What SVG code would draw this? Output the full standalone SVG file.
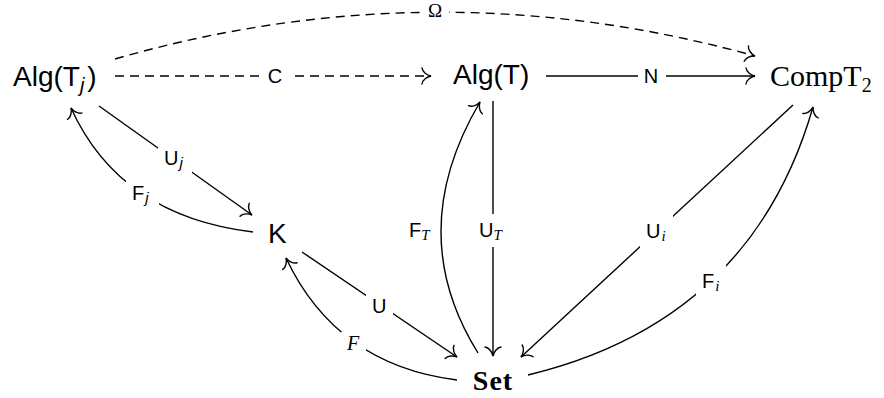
<svg xmlns="http://www.w3.org/2000/svg" width="884" height="398" viewBox="0 0 884 398">
<style>
.sans{font-family:"Liberation Sans",Arial,sans-serif;fill:#000}
.serif{font-family:"Liberation Serif","Times New Roman",serif;fill:#000}
.node{font-size:28px}
.lbl{font-size:20px}
.e{fill:none;stroke:#000;stroke-width:1.4;marker-end:url(#to)}
.d{stroke-dasharray:9 6}
.bg{fill:#fff}
</style>
<defs>
<marker id="to" markerUnits="userSpaceOnUse" markerWidth="24" markerHeight="24" viewBox="-12 -12 24 24" refX="0" refY="0" orient="auto" overflow="visible">
<path d="M-9,-8 C-8.5,-4 -4,-0.8 0,0 C-4,0.8 -8.5,4 -9,8" fill="none" stroke="#000" stroke-width="1.4" stroke-linecap="round"/>
</marker>
</defs>
<g id="connectors">
<path class="e d" d="M115,76 L431,76"/>
<path class="e d" d="M115,59 Q435,-33 755,56"/>
<path class="e" d="M546,76 L755,76"/>
<path class="e" d="M99,106 L252,215"/>
<path class="e" d="M253,232 Q120,216 71,108"/>
<path class="e" d="M302,252 L457,357"/>
<path class="e" d="M457,380 Q336.5,365 286,258"/>
<path class="e" d="M478,353 Q403,232.5 480,102"/>
<path class="e" d="M493,101 L493,356"/>
<path class="e" d="M793,105 L521,357"/>
<path class="e" d="M528,375 Q751.5,321 813,107"/>
<rect class="bg" x="259" y="64" width="31" height="24"/>
<rect class="bg" x="423" y="0" width="26" height="22"/>
<rect class="bg" x="638" y="64" width="28" height="24"/>
<rect class="bg" x="158" y="143" width="34" height="33"/>
<rect class="bg" x="126" y="179" width="33" height="28"/>
<rect class="bg" x="366" y="292" width="27" height="24"/>
<rect class="bg" x="341" y="332" width="25" height="21"/>
<rect class="bg" x="478" y="214" width="30" height="33"/>
<rect class="bg" x="640" y="215" width="33" height="33"/>
<rect class="bg" x="696" y="265" width="30" height="32"/>
<text class="sans lbl" x="275" y="83" text-anchor="middle">C</text>
<text class="serif" x="435" y="17" text-anchor="middle" font-size="19">Ω</text>
<text class="sans lbl" x="651" y="83" text-anchor="middle">N</text>
<text class="sans lbl" x="164" y="165">U<tspan font-size="15" font-style="italic" dx="1" dy="3">j</tspan></text>
<text class="sans lbl" x="132" y="200">F<tspan font-size="15" font-style="italic" dx="1" dy="3">j</tspan></text>
<text class="sans lbl" x="372" y="313">U</text>
<text class="serif lbl" x="347" y="350" font-style="italic" font-size="21">F</text>
<text class="sans lbl" x="409" y="237">F<tspan class="serif" font-size="15" font-style="italic" dy="3">T</tspan></text>
<text class="sans lbl" x="479" y="237">U<tspan class="serif" font-size="15" font-style="italic" dy="3">T</tspan></text>
<text class="sans lbl" x="646" y="238">U<tspan class="serif" font-size="15" font-style="italic" dx="1" dy="3">i</tspan></text>
<text class="sans lbl" x="702" y="288">F<tspan class="serif" font-size="15" font-style="italic" dx="1" dy="3">i</tspan></text>
</g>
<g id="AlgTj"><text class="sans node" x="13" y="86">Alg(T<tspan font-size="20" font-style="italic" dy="6">j</tspan><tspan dx="3" dy="-6">)</tspan></text></g>
<g id="AlgT"><text class="sans node" x="453" y="84">Alg(T)</text></g>
<g id="CompT2"><text class="serif" x="770" y="86" font-size="30">CompT<tspan font-size="20" dy="6">2</tspan></text></g>
<g id="K"><text class="sans node" x="268" y="243">K</text></g>
<g id="Set"><text class="serif" x="493" y="390" text-anchor="middle" font-size="28" font-weight="bold" letter-spacing="1">Set</text></g>
</svg>
